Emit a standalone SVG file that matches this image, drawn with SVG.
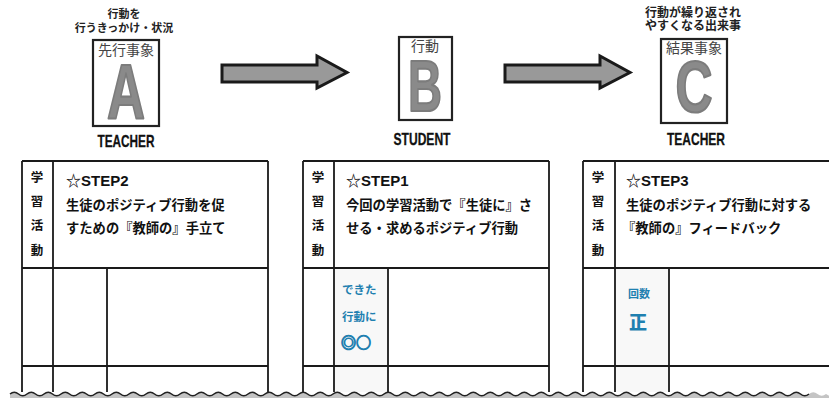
<svg xmlns="http://www.w3.org/2000/svg" width="829" height="398" viewBox="0 0 829 398">
<style>
.cap{font-family:"Noto Sans CJK JP",sans-serif;font-size:11px;font-weight:bold;fill:#222;text-anchor:middle;}
.box{fill:#fff;stroke:#222;stroke-width:2.2;}
.boxlbl{font-family:"Noto Sans CJK JP",sans-serif;font-size:14px;fill:#444;text-anchor:middle;}
.big{font-family:"Liberation Sans",Arial,sans-serif;font-weight:bold;fill:#8a8a8a;stroke:#7c7c7c;stroke-width:2.2;stroke-linejoin:round;text-anchor:middle;}
.role{font-family:"Liberation Sans",Arial,sans-serif;font-weight:bold;font-size:17px;fill:#111;stroke:#111;stroke-width:0.3;text-anchor:middle;}
.arrow{fill:#999;stroke:#1a1a1a;stroke-width:3;stroke-linejoin:miter;}
.ln{stroke:#1a1a1a;stroke-width:1.8;fill:none;}
.side{font-family:"Noto Sans CJK JP",sans-serif;font-size:12.5px;font-weight:bold;fill:#111;text-anchor:middle;}
.step{font-family:"Liberation Sans","Noto Sans CJK JP",sans-serif;font-size:15px;font-weight:bold;fill:#111;}
.body{font-family:"Noto Sans CJK JP",sans-serif;font-size:13.3px;font-weight:bold;fill:#111;}
.blue{font-family:"Noto Sans CJK JP",sans-serif;font-weight:bold;fill:#1f80b0;}
.shade{fill:#f8f8f8;}
</style>

<g id="connectors">
<path class="arrow" d="M222,65 L317,65 L317,56 L347,72.5 L317,88 L317,82 L222,82 Z"/>
<path class="arrow" d="M505,65 L600,65 L600,56 L630,72.5 L600,88 L600,82 L505,82 Z"/>
</g>

<g id="nodeA">
<text class="cap" x="124" y="18">行動を</text>
<text class="cap" x="124" y="32">行うきっかけ・状況</text>
<rect class="box" x="93" y="40" width="66" height="86"/>
<text class="boxlbl" x="126" y="55">先行事象</text>
<text class="big" x="126" y="119" font-size="78" textLength="38" lengthAdjust="spacingAndGlyphs">A</text>
<text class="role" x="126" y="147" textLength="57" lengthAdjust="spacingAndGlyphs">TEACHER</text>
</g>

<g id="nodeB">
<rect class="box" x="399" y="37" width="53" height="83"/>
<text class="boxlbl" x="425" y="51">行動</text>
<text class="big" x="425" y="111" font-size="73" textLength="34" lengthAdjust="spacingAndGlyphs">B</text>
<text class="role" x="422" y="145" textLength="57" lengthAdjust="spacingAndGlyphs">STUDENT</text>
</g>

<g id="nodeC">
<text style="font-size:12px" class="cap" x="693" y="17">行動が繰り返され</text>
<text style="font-size:12px" class="cap" x="693" y="30">やすくなる出来事</text>
<rect class="box" x="661" y="39" width="66" height="84"/>
<text class="boxlbl" x="694" y="53">結果事象</text>
<text class="big" x="694" y="112" font-size="72" textLength="37" lengthAdjust="spacingAndGlyphs">C</text>
<text class="role" x="696" y="145" textLength="58" lengthAdjust="spacingAndGlyphs">TEACHER</text>
</g>

<g id="table1">
<path class="ln" d="M22,161 H268 M22,268 H268 M22,366 H268 M22,161 V392 M53,161 V392 M107,268 V392 M268,161 V392"/>
<text class="side" x="37" y="182">学</text>
<text class="side" x="37" y="206">習</text>
<text class="side" x="37" y="230">活</text>
<text class="side" x="37" y="255">動</text>
<text class="step" x="66" y="186">☆STEP2</text>
<text class="body" x="66" y="210">生徒のポジティブ行動を促</text>
<text class="body" x="66" y="233">すための『教師の』手立て</text>
</g>

<g id="table2">
<rect class="shade" x="334" y="268" width="54" height="124"/>
<path class="ln" d="M303,161 H549 M303,268 H549 M303,366 H549 M303,161 V392 M334,161 V392 M388,268 V392 M549,161 V392"/>
<text class="side" x="318" y="182">学</text>
<text class="side" x="318" y="206">習</text>
<text class="side" x="318" y="230">活</text>
<text class="side" x="318" y="255">動</text>
<text class="step" x="346" y="186">☆STEP1</text>
<text class="body" x="346" y="210">今回の学習活動で『生徒に』さ</text>
<text class="body" x="346" y="233">せる・求めるポジティブ行動</text>
<text class="blue" style="font-size:11.5px" x="342" y="294">できた</text>
<text class="blue" style="font-size:11.5px" x="342" y="321">行動に</text>
<text class="blue" style="font-size:15px;stroke:#1f80b0;stroke-width:1.1" x="341" y="348">◎○</text>
</g>

<g id="table3">
<rect class="shade" x="615" y="268" width="54" height="124"/>
<path class="ln" d="M583,161 H829 M583,268 H829 M583,366 H829 M583,161 V392 M615,161 V392 M669,268 V392"/>
<text class="side" x="598" y="182">学</text>
<text class="side" x="598" y="206">習</text>
<text class="side" x="598" y="230">活</text>
<text class="side" x="598" y="255">動</text>
<text class="step" x="626" y="186">☆STEP3</text>
<text class="body" x="626" y="210">生徒のポジティブ行動に対する</text>
<text class="body" x="622" y="233">『教師の』フィードバック</text>
<text class="blue" style="font-size:11px" x="628" y="298">回数</text>
<text class="blue" style="font-size:18px;font-weight:900" x="629" y="329">正</text>
</g>

<g id="cut">
<path d="M10,394 q4.25,-3.5 8.5,0 t8.5,0 t8.5,0 t8.5,0 t8.5,0 t8.5,0 t8.5,0 t8.5,0 t8.5,0 t8.5,0 t8.5,0 t8.5,0 t8.5,0 t8.5,0 t8.5,0 t8.5,0 t8.5,0 t8.5,0 t8.5,0 t8.5,0 t8.5,0 t8.5,0 t8.5,0 t8.5,0 t8.5,0 t8.5,0 t8.5,0 t8.5,0 t8.5,0 t8.5,0 t8.5,0 t8.5,0 t8.5,0 t8.5,0 t8.5,0 t8.5,0 t8.5,0 t8.5,0 t8.5,0 t8.5,0 t8.5,0 t8.5,0 t8.5,0 t8.5,0 t8.5,0 t8.5,0 t8.5,0 t8.5,0 t8.5,0 t8.5,0 t8.5,0 t8.5,0 t8.5,0 t8.5,0 t8.5,0 t8.5,0 t8.5,0 t8.5,0 t8.5,0 t8.5,0 t8.5,0 t8.5,0 t8.5,0 t8.5,0 t8.5,0 t8.5,0 t8.5,0 t8.5,0 t8.5,0 t8.5,0 t8.5,0 t8.5,0 t8.5,0 t8.5,0 t8.5,0 t8.5,0 t8.5,0 t8.5,0 t8.5,0 t8.5,0 t8.5,0 t8.5,0 t8.5,0 t8.5,0 t8.5,0 t8.5,0 t8.5,0 t8.5,0 t8.5,0 t8.5,0 t8.5,0 t8.5,0 t8.5,0 t8.5,0 t8.5,0 t8.5,0 L833,398 L10,398 Z" fill="#c4c4c4" stroke="none"/>
<path d="M10,394 q4.25,-3.5 8.5,0 t8.5,0 t8.5,0 t8.5,0 t8.5,0 t8.5,0 t8.5,0 t8.5,0 t8.5,0 t8.5,0 t8.5,0 t8.5,0 t8.5,0 t8.5,0 t8.5,0 t8.5,0 t8.5,0 t8.5,0 t8.5,0 t8.5,0 t8.5,0 t8.5,0 t8.5,0 t8.5,0 t8.5,0 t8.5,0 t8.5,0 t8.5,0 t8.5,0 t8.5,0 t8.5,0 t8.5,0 t8.5,0 t8.5,0 t8.5,0 t8.5,0 t8.5,0 t8.5,0 t8.5,0 t8.5,0 t8.5,0 t8.5,0 t8.5,0 t8.5,0 t8.5,0 t8.5,0 t8.5,0 t8.5,0 t8.5,0 t8.5,0 t8.5,0 t8.5,0 t8.5,0 t8.5,0 t8.5,0 t8.5,0 t8.5,0 t8.5,0 t8.5,0 t8.5,0 t8.5,0 t8.5,0 t8.5,0 t8.5,0 t8.5,0 t8.5,0 t8.5,0 t8.5,0 t8.5,0 t8.5,0 t8.5,0 t8.5,0 t8.5,0 t8.5,0 t8.5,0 t8.5,0 t8.5,0 t8.5,0 t8.5,0 t8.5,0 t8.5,0 t8.5,0 t8.5,0 t8.5,0 t8.5,0 t8.5,0 t8.5,0 t8.5,0 t8.5,0 t8.5,0 t8.5,0 t8.5,0 t8.5,0 t8.5,0" fill="none" stroke="#222" stroke-width="1.6"/>
</g>
</svg>
